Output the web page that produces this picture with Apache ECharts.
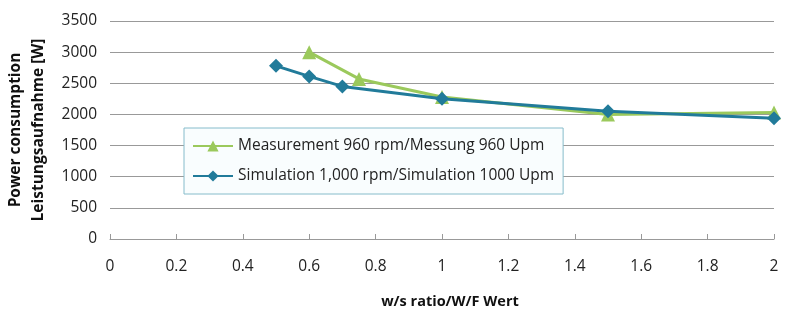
<!DOCTYPE html>
<html><head><meta charset="utf-8">
<script src="https://cdn.jsdelivr.net/npm/echarts@6/dist/echarts.min.js"></script>
<style>html,body{margin:0;padding:0;background:#fff}#c{width:800px;height:335px}</style>
</head><body><div id="c"></div>
<script>
var measX = [0.6, 0.75, 1, 1.5, 2];
var measY = [3000, 2570, 2280, 2000, 2030];
var simX = [0.5, 0.6, 0.7, 1, 1.5, 2];
var simY = [2780, 2610, 2450, 2250, 2050, 1940];
var measName = 'Measurement 960 rpm/Messung 960 Upm';
var simName = 'Simulation 1,000 rpm/Simulation 1000 Upm';
var xTitle = 'w/s ratio/W/F Wert';
var yTitle = 'Power consumption\nLeistungsaufnahme [W]';

function pairs(xs, ys){ return xs.map(function(x,i){return [x, ys[i]];}); }
var font = "'Open Sans', 'Noto Sans', sans-serif";
var chart = echarts.init(document.getElementById('c'));
chart.setOption({
  animation: false,
  textStyle: {fontFamily: font},
  grid: {left: 110, right: 26, top: 21, bottom: 96, containLabel: false, outerBoundsMode: 'none'},
  legend: {
    orient: 'vertical', left: 184, top: 128,
    padding: [10, 9, 10, 8], itemGap: 14, itemWidth: 40, itemHeight: 14,
    borderColor: '#86bccb', borderWidth: 1, borderRadius: 0,
    backgroundColor: '#f9fdfe',
    textStyle: {fontFamily: font, fontSize: 15.5, color: '#222'},
    data: [measName, simName]
  },
  xAxis: {
    type: 'value', min: 0, max: 2, interval: 0.2,
    name: xTitle, nameLocation: 'middle', nameGap: 55,
    nameTextStyle: {fontFamily: font, fontSize: 14.5, fontWeight: 'bold', color: '#111', padding: [0, 0, 0, 16]},
    axisLine: {show: true, lineStyle: {color: '#999', width: 1}},
    axisTick: {show: true, inside: true, length: 5, lineStyle: {color: '#999'}},
    splitLine: {show: false},
    axisLabel: {fontSize: 15.5, color: '#222', margin: 20}
  },
  yAxis: {
    type: 'value', min: 0, max: 3500, interval: 500,
    name: yTitle, nameLocation: 'middle', nameGap: 60, nameRotate: 90,
    nameTextStyle: {fontFamily: font, fontSize: 15.5, fontWeight: 'bold', color: '#111', lineHeight: 23},
    axisLine: {show: false},
    axisTick: {show: false},
    splitLine: {show: true, lineStyle: {color: '#999', width: 1}},
    axisLabel: {fontSize: 15.5, color: '#222', margin: 13, formatter: function(v){return String(v);}}
  },
  series: [
    {
      name: measName, type: 'line', data: pairs(measX, measY),
      symbol: 'triangle', symbolSize: 14,
      lineStyle: {color: '#9bc95c', width: 3},
      itemStyle: {color: '#9bc95c'}, z: 2
    },
    {
      name: simName, type: 'line', data: pairs(simX, simY),
      symbol: 'diamond', symbolSize: 14,
      lineStyle: {color: '#217b9a', width: 3},
      itemStyle: {color: '#217b9a'}, z: 3
    }
  ]
});
</script></body></html>
